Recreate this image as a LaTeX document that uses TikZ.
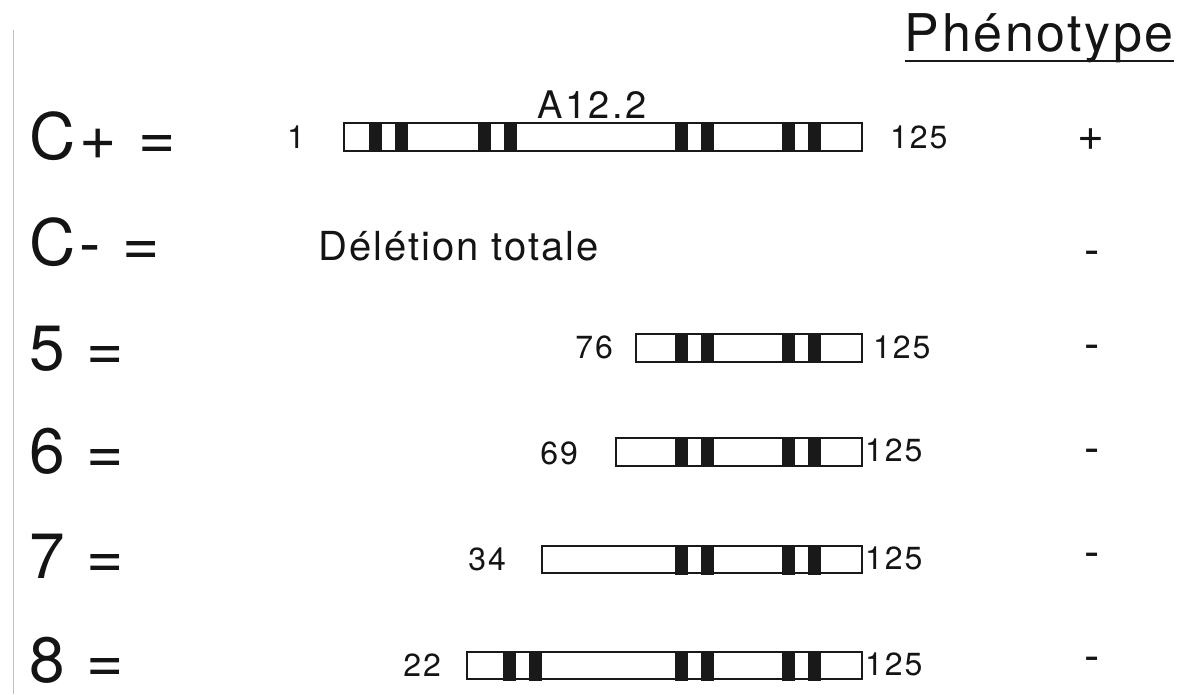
\documentclass[tikz,border=0pt]{standalone}
\usepackage{fontspec}
\setmainfont{TeX Gyre Heros}
\begin{document}
\begin{tikzpicture}[x=1pt,y=-1pt,
  every node/.style={inner sep=0pt, text=black!92},
  rowlabel/.style={anchor=base west, font=\fontsize{64}{64}\selectfont\addfontfeatures{LetterSpace=6}},
  num/.style={font=\fontsize{32}{32}\selectfont\addfontfeatures{LetterSpace=6}},
  caption/.style={font=\fontsize{38}{38}\selectfont\addfontfeatures{LetterSpace=6}},
  deltext/.style={font=\fontsize{40}{40}\selectfont\addfontfeatures{LetterSpace=5}},
  head/.style={anchor=base east, font=\fontsize{52}{52}\selectfont\addfontfeatures{LetterSpace=5}},
  sign/.style={font=\fontsize{46}{46}\selectfont},
  genebar/.style={draw=black!90, line width=2pt, fill=white},
  band/.style={fill=black!90},
]
\useasboundingbox (0,0) rectangle (1196,694);

% faint page edge
\draw[black!25, line width=0.8pt] (13,30) -- (13,694);

% column heading
\node[head] (ph) at (1174,51) {Phénotype};
\draw[black!90, line width=2.4pt] ([yshift=-10pt]ph.base west) -- ([yshift=-10pt]ph.base east);

% two dark bands of one repeat, left edge #1, bar top #2
\newcommand\repeatpair[2]{%
  \fill[band] (#1,#2-1) rectangle ++(12.5,30);
  \fill[band] (#1+26,#2-1) rectangle ++(12.5,30);}

% row labels
\node[rowlabel] (lCp) at (29,159) {C+ =};
\node[rowlabel] (lCm) at (29,265) {C- =};
\node[rowlabel] (l5)  at (29,370) {5 =};
\node[rowlabel] (l6)  at (29,473) {6 =};
\node[rowlabel] (l7)  at (29,578) {7 =};
\node[rowlabel] (l8)  at (29,682) {8 =};

% C+ : full gene
\draw[genebar] (344,123) rectangle (862,151);
\repeatpair{369}{123}\repeatpair{478}{123}\repeatpair{675}{123}\repeatpair{782}{123}
\draw[black!90, line width=2pt] (344,123) rectangle (862,151);
\node[caption, anchor=base] (a12) at (592,118) {A12.2};
\node[num, anchor=east] (sCp) at (305,137) {1};
\node[num, anchor=west] (eCp) at (890,137) {125};

% C- : total deletion
\node[deltext, anchor=base west] (del) at (318,260) {Délétion totale};

% 5
\draw[genebar] (636,334) rectangle (862,362);
\repeatpair{675}{334}\repeatpair{782}{334}
\draw[black!90, line width=2pt] (636,334) rectangle (862,362);
\node[num, anchor=east] (s5) at (613,347) {76};
\node[num, anchor=west] (e5) at (873,347) {125};

% 6
\draw[genebar] (616,438) rectangle (862,466);
\repeatpair{675}{438}\repeatpair{782}{438}
\draw[black!90, line width=2pt] (616,438) rectangle (862,466);
\node[num, anchor=east] (s6) at (578,453) {69};
\node[num, anchor=north west] (e6) at (865,439) {125};

% 7
\draw[genebar] (542,546) rectangle (862,573);
\repeatpair{675}{546}\repeatpair{782}{546}
\draw[black!90, line width=2pt] (542,546) rectangle (862,573);
\node[num, anchor=east] (s7) at (506,559) {34};
\node[num, anchor=north west] (e7) at (865,547) {125};

% 8
\draw[genebar] (467,652) rectangle (862,679);
\repeatpair{503}{652}\repeatpair{675}{652}\repeatpair{782}{652}
\draw[black!90, line width=2pt] (467,652) rectangle (862,679);
\node[num, anchor=east] (s8) at (441,665) {22};
\node[num, anchor=north west] (e8) at (865,653) {125};

% phenotype column
\node[sign] (pCp) at (1091,140) {+};
\node[sign] (pCm) at (1092,258) {-};
\node[sign] (p5)  at (1092,352) {-};
\node[sign] (p6)  at (1092,456) {-};
\node[sign] (p7)  at (1092,560) {-};
\node[sign] (p8)  at (1092,664) {-};
\end{tikzpicture}
\end{document}
